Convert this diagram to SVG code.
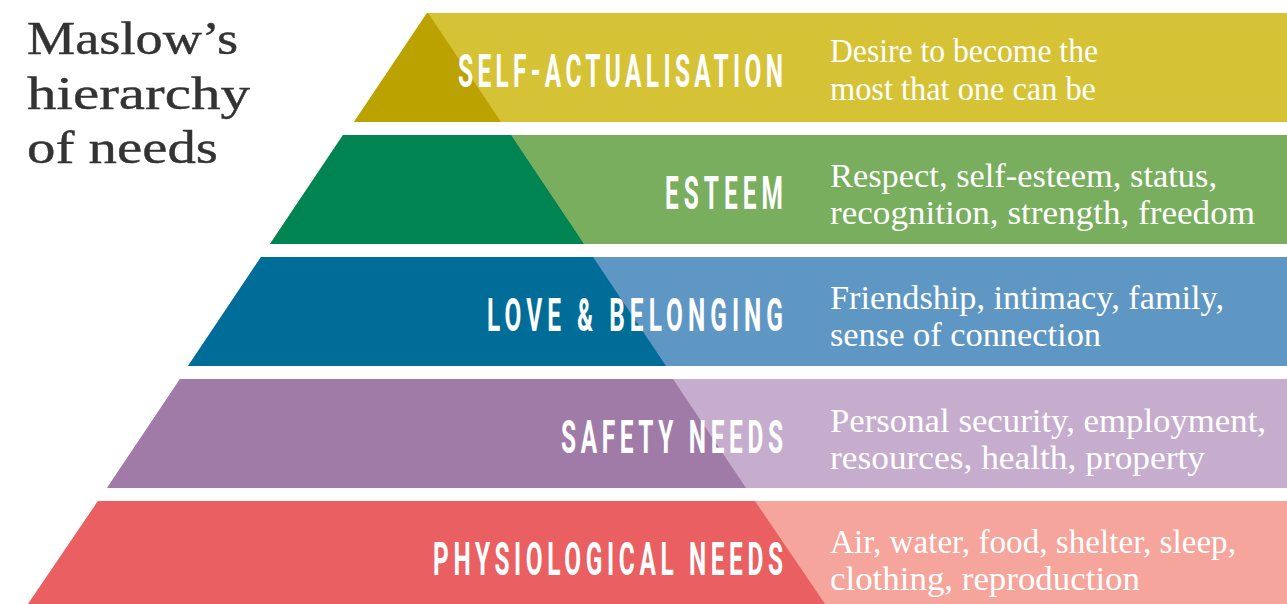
<svg xmlns="http://www.w3.org/2000/svg" width="1287" height="604" viewBox="0 0 1287 604">
<style>
.title{font-family:"Liberation Serif","Times New Roman",serif;font-size:47px;fill:#333333;stroke:#333333;stroke-width:0.4px;}
.desc{font-family:"Liberation Serif","Times New Roman",serif;font-size:34px;fill:#ffffff;}
.lbl{font-family:Roboto,"DejaVu Sans",sans-serif;font-weight:700;font-size:47px;fill:#ffffff;}
</style>
<rect width="1287" height="604" fill="#ffffff"/>
<g id="title">
<text class="title" x="27" y="54" textLength="211" lengthAdjust="spacingAndGlyphs">Maslow’s</text>
<text class="title" x="27" y="109" textLength="223" lengthAdjust="spacingAndGlyphs">hierarchy</text>
<text class="title" x="27" y="163" textLength="191" lengthAdjust="spacingAndGlyphs">of needs</text>
</g>
<g id="self-actualisation">
<polygon points="427,13 1287,13 1287,122 354,122" fill="#D6C335"/>
<polygon points="427,13 428,13 501,122 354,122" fill="#BBA200"/>
<g transform="translate(783,87) scale(0.52,1)"><text class="lbl" text-anchor="end" textLength="625" lengthAdjust="spacing">SELF-ACTUALISATION</text></g>
<text class="desc" x="830" y="62" textLength="268" lengthAdjust="spacingAndGlyphs">Desire to become the</text>
<text class="desc" x="830" y="100" textLength="266" lengthAdjust="spacingAndGlyphs">most that one can be</text>
</g>
<g id="esteem">
<polygon points="343,135 1287,135 1287,244 270,244" fill="#78AE5E"/>
<polygon points="343,135 511,135 584,244 270,244" fill="#008452"/>
<g transform="translate(783,209) scale(0.52,1)"><text class="lbl" text-anchor="end" textLength="227" lengthAdjust="spacing">ESTEEM</text></g>
<text class="desc" x="830" y="187" textLength="387" lengthAdjust="spacingAndGlyphs">Respect, self-esteem, status,</text>
<text class="desc" x="830" y="224" textLength="425" lengthAdjust="spacingAndGlyphs">recognition, strength, freedom</text>
</g>
<g id="love-belonging">
<polygon points="261,257 1287,257 1287,366 188,366" fill="#5F97C4"/>
<polygon points="261,257 593,257 666,366 188,366" fill="#006C98"/>
<g transform="translate(783,331) scale(0.52,1)"><text class="lbl" text-anchor="end" textLength="569" lengthAdjust="spacing">LOVE &amp; BELONGING</text></g>
<text class="desc" x="830" y="309" textLength="394" lengthAdjust="spacingAndGlyphs">Friendship, intimacy, family,</text>
<text class="desc" x="830" y="346" textLength="271" lengthAdjust="spacingAndGlyphs">sense of connection</text>
</g>
<g id="safety">
<polygon points="180,379 1287,379 1287,488 107,488" fill="#C6ADCD"/>
<polygon points="180,379 673,379 746,488 107,488" fill="#A07BA8"/>
<g transform="translate(783,453) scale(0.52,1)"><text class="lbl" text-anchor="end" textLength="427" lengthAdjust="spacing">SAFETY NEEDS</text></g>
<text class="desc" x="830" y="432" textLength="436" lengthAdjust="spacingAndGlyphs">Personal security, employment,</text>
<text class="desc" x="830" y="469" textLength="375" lengthAdjust="spacingAndGlyphs">resources, health, property</text>
</g>
<g id="physiological">
<polygon points="98,501 1287,501 1287,604 28,604" fill="#F5A59B"/>
<polygon points="98,501 755,501 825,604 28,604" fill="#EA5F61"/>
<g transform="translate(783,575) scale(0.52,1)"><text class="lbl" text-anchor="end" textLength="673" lengthAdjust="spacing">PHYSIOLOGICAL NEEDS</text></g>
<text class="desc" x="830" y="553" textLength="406" lengthAdjust="spacingAndGlyphs">Air, water, food, shelter, sleep,</text>
<text class="desc" x="830" y="590" textLength="310" lengthAdjust="spacingAndGlyphs">clothing, reproduction</text>
</g>
<g id="connectors"></g>
</svg>
